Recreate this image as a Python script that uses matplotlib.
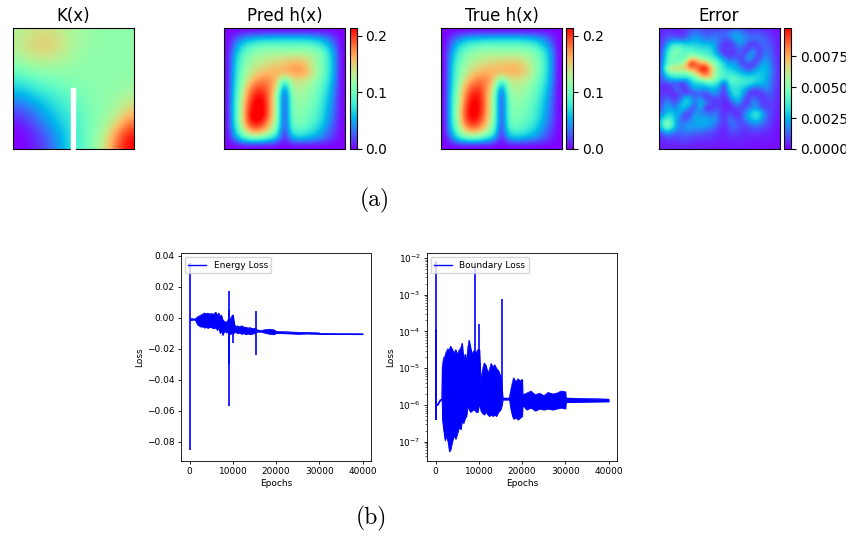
import matplotlib
matplotlib.use("Agg")
import matplotlib.pyplot as plt
import matplotlib.patches as patches
import numpy as np

W, H = 852, 539

# heatmap grids, top row first
k_grid = [
    [.60, .64, .66, .66, .62, .58, .56, .54, .53, .53, .53],
    [.62, .68, .70, .70, .65, .59, .56, .54, .53, .53, .53],
    [.58, .64, .66, .65, .61, .57, .54, .53, .53, .53, .53],
    [.51, .55, .57, .57, .56, .54, .53, .53, .53, .53, .53],
    [.41, .45, .48, .50, .51, .52, .53, .53, .53, .53, .54],
    [.30, .34, .39, .43, .46, .49, .51, .52, .53, .54, .56],
    [.20, .24, .30, .35, .40, .45, .49, .52, .53, .56, .62],
    [.10, .15, .22, .29, .35, .41, .47, .51, .54, .60, .70],
    [.04, .09, .16, .24, .31, .38, .46, .51, .57, .68, .82],
    [.00, .04, .10, .18, .27, .36, .45, .52, .63, .80, .95],
    [.00, .02, .07, .14, .25, .35, .45, .54, .68, .88, 1.0],
]

pred_grid = [
    [.000, .000, .000, .000, .000, .000, .000, .000, .000, .000, .000, .000, .000, .000, .000, .000, .000],
    [.000, .018, .034, .044, .050, .053, .055, .056, .056, .056, .056, .055, .052, .046, .034, .018, .000],
    [.000, .034, .064, .082, .092, .096, .098, .098, .098, .098, .098, .096, .092, .080, .060, .032, .000],
    [.000, .048, .084, .104, .114, .118, .120, .120, .120, .120, .120, .120, .116, .106, .082, .044, .000],
    [.000, .056, .096, .114, .126, .131, .135, .140, .145, .150, .150, .145, .130, .112, .088, .048, .000],
    [.000, .062, .102, .122, .135, .144, .150, .155, .160, .167, .170, .160, .132, .112, .088, .048, .000],
    [.000, .064, .106, .132, .150, .160, .164, .160, .160, .165, .170, .164, .142, .112, .086, .047, .000],
    [.000, .068, .112, .148, .172, .180, .172, .155, .080, .135, .140, .134, .118, .102, .080, .044, .000],
    [.000, .070, .120, .168, .195, .195, .178, .140, .020, .126, .130, .124, .112, .098, .072, .040, .000],
    [.000, .074, .128, .184, .210, .212, .174, .122, .000, .112, .122, .118, .106, .092, .066, .036, .000],
    [.000, .076, .134, .194, .220, .218, .176, .118, .000, .108, .118, .114, .102, .088, .060, .032, .000],
    [.000, .076, .138, .202, .225, .222, .176, .118, .000, .104, .114, .108, .098, .082, .056, .030, .000],
    [.000, .076, .140, .208, .230, .218, .172, .118, .000, .102, .110, .104, .094, .078, .052, .028, .000],
    [.000, .072, .136, .194, .212, .196, .156, .110, .000, .098, .106, .100, .088, .070, .046, .024, .000],
    [.000, .060, .115, .160, .175, .165, .135, .092, .000, .082, .090, .084, .072, .056, .034, .018, .000],
    [.000, .036, .080, .100, .105, .095, .080, .055, .000, .050, .060, .058, .050, .040, .026, .012, .000],
    [.000, .000, .000, .000, .000, .000, .000, .000, .000, .000, .000, .000, .000, .000, .000, .000, .000],
]

true_grid = [
    [.000, .000, .000, .000, .000, .000, .000, .000, .000, .000, .000, .000, .000, .000, .000, .000, .000],
    [.000, .018, .034, .045, .050, .053, .055, .056, .056, .056, .056, .054, .052, .046, .034, .018, .000],
    [.000, .034, .064, .082, .090, .096, .098, .098, .098, .098, .098, .096, .090, .078, .058, .032, .000],
    [.000, .046, .084, .102, .112, .118, .120, .120, .120, .120, .118, .116, .112, .102, .080, .044, .000],
    [.000, .054, .094, .114, .126, .132, .137, .140, .142, .145, .145, .138, .126, .108, .086, .048, .000],
    [.000, .060, .102, .122, .137, .146, .152, .156, .158, .161, .161, .154, .136, .112, .086, .048, .000],
    [.000, .062, .106, .134, .154, .164, .166, .162, .158, .161, .161, .154, .136, .112, .084, .046, .000],
    [.000, .064, .112, .150, .174, .183, .178, .150, .080, .130, .138, .134, .120, .102, .080, .044, .000],
    [.000, .068, .120, .170, .196, .198, .172, .132, .022, .122, .130, .124, .112, .096, .072, .040, .000],
    [.000, .072, .126, .182, .210, .208, .166, .118, .000, .110, .120, .118, .106, .092, .066, .036, .000],
    [.000, .074, .130, .192, .220, .212, .166, .114, .000, .104, .116, .112, .100, .086, .060, .032, .000],
    [.000, .074, .136, .198, .224, .212, .166, .114, .000, .102, .112, .108, .096, .082, .056, .030, .000],
    [.000, .074, .136, .202, .222, .206, .162, .114, .000, .100, .108, .102, .092, .076, .052, .028, .000],
    [.000, .070, .130, .186, .206, .190, .150, .108, .000, .096, .104, .096, .086, .068, .046, .024, .000],
    [.000, .058, .112, .154, .168, .158, .130, .090, .000, .080, .088, .082, .070, .056, .034, .018, .000],
    [.000, .034, .076, .096, .102, .092, .076, .052, .000, .048, .058, .056, .048, .040, .026, .012, .000],
    [.000, .000, .000, .000, .000, .000, .000, .000, .000, .000, .000, .000, .000, .000, .000, .000, .000],
]

# error values in units of 1e-4
err_grid = [
    [4, 5, 5, 4, 4, 6, 10, 12, 10, 8, 8, 8, 8, 8, 10, 12, 12, 10, 8, 6, 6, 5, 4, 3, 2],
    [5, 8, 8, 6, 6, 8, 14, 18, 16, 12, 12, 14, 14, 14, 16, 24, 22, 16, 12, 12, 12, 10, 8, 5, 3],
    [6, 10, 14, 14, 12, 14, 20, 24, 20, 16, 16, 18, 14, 10, 12, 20, 24, 20, 16, 14, 16, 14, 10, 6, 4],
    [6, 18, 32, 36, 34, 30, 30, 30, 28, 26, 26, 22, 12, 6, 4, 10, 20, 18, 8, 4, 8, 14, 12, 8, 4],
    [8, 26, 42, 48, 46, 40, 40, 36, 36, 34, 34, 24, 10, 4, 14, 6, 14, 10, 5, 18, 6, 12, 14, 10, 4],
    [10, 32, 46, 50, 44, 42, 48, 44, 42, 40, 36, 28, 16, 6, 4, 6, 14, 6, 16, 24, 5, 14, 16, 10, 4],
    [10, 36, 48, 46, 42, 48, 66, 70, 56, 50, 46, 40, 30, 20, 10, 14, 8, 10, 26, 12, 6, 18, 18, 12, 5],
    [12, 38, 44, 48, 52, 66, 98, 90, 78, 80, 62, 52, 40, 30, 22, 24, 14, 6, 10, 5, 14, 24, 22, 12, 5],
    [12, 50, 70, 68, 70, 70, 80, 78, 94, 98, 82, 58, 44, 34, 28, 26, 22, 14, 8, 12, 24, 26, 24, 14, 6],
    [12, 36, 44, 46, 46, 46, 56, 66, 80, 88, 78, 56, 44, 40, 36, 34, 30, 24, 22, 26, 28, 28, 24, 14, 6],
    [10, 22, 30, 34, 32, 30, 34, 46, 58, 68, 68, 54, 42, 40, 40, 44, 38, 36, 34, 34, 30, 28, 22, 12, 6],
    [8, 8, 10, 8, 6, 8, 24, 32, 30, 34, 40, 38, 32, 6, 38, 40, 38, 38, 36, 32, 28, 26, 20, 12, 6],
    [6, 4, 6, 18, 8, 8, 16, 26, 24, 24, 26, 28, 20, 4, 30, 34, 32, 28, 20, 12, 12, 18, 18, 12, 5],
    [6, 8, 4, 6, 14, 4, 8, 10, 10, 8, 16, 22, 14, 4, 22, 36, 34, 22, 8, 5, 6, 8, 14, 10, 5],
    [6, 12, 8, 6, 10, 28, 22, 12, 20, 8, 6, 10, 10, 4, 14, 28, 30, 14, 5, 14, 8, 5, 10, 10, 4],
    [8, 20, 14, 8, 24, 32, 30, 10, 30, 18, 14, 4, 8, 4, 6, 16, 20, 8, 6, 22, 16, 6, 8, 8, 4],
    [10, 22, 22, 14, 30, 26, 14, 8, 28, 6, 4, 8, 10, 4, 4, 8, 12, 6, 14, 18, 14, 8, 8, 8, 4],
    [14, 26, 28, 24, 22, 10, 6, 22, 16, 16, 10, 16, 10, 4, 10, 4, 6, 14, 22, 34, 36, 20, 10, 8, 4],
    [22, 36, 34, 26, 14, 6, 14, 24, 20, 22, 18, 20, 12, 4, 14, 10, 5, 16, 26, 32, 34, 20, 12, 6, 3],
    [30, 52, 44, 24, 14, 14, 20, 22, 24, 26, 22, 20, 12, 5, 14, 16, 8, 10, 16, 22, 22, 14, 10, 6, 3],
    [28, 50, 40, 24, 16, 20, 22, 20, 22, 20, 18, 14, 8, 4, 10, 14, 10, 8, 10, 12, 12, 10, 8, 5, 2],
    [12, 24, 20, 14, 14, 16, 16, 14, 14, 12, 10, 8, 6, 4, 8, 10, 8, 6, 6, 8, 8, 6, 5, 4, 2],
    [6, 10, 10, 8, 10, 10, 10, 8, 8, 8, 8, 6, 5, 4, 6, 6, 6, 5, 5, 5, 4, 4, 4, 3, 2],
    [4, 5, 6, 6, 8, 8, 6, 6, 5, 5, 5, 5, 4, 3, 4, 4, 4, 4, 3, 3, 3, 3, 3, 2, 2],
    [3, 4, 4, 4, 4, 4, 4, 4, 3, 3, 3, 3, 3, 2, 3, 3, 3, 3, 2, 2, 2, 2, 2, 2, 2],
]

# loss curves: envelope of the oscillation, plus the isolated spikes
energy_epochs = [100, 1000, 1300, 1500, 1800, 2200, 2600, 3000, 3400, 3800, 4200, 4600, 5000, 5500, 6000,
                 6300, 6700, 7000, 7300, 7600, 8000, 8500, 8900, 9300, 9700, 10000, 10300, 10600, 11000,
                 11500, 12000, 12500, 13000, 13500, 14000, 14500, 15000, 15600, 16500, 17000, 17500, 18500,
                 19500, 20000, 22000, 25000, 27000, 30000, 30100, 40000]
energy_hi = [-.0005, -.0008, -.0006, -.0002, .0006, .0012, .0018, .0024, .0031, .0026, .0030, .0024, .0028, .0022, .0036,
             .0012, .0030, .0004, .0018, -.0012, -.0024, -.0030, -.0010, -.0012, .0010, .0018, -.0040, -.0060, -.0052,
             -.0058, -.0052, -.0060, -.0062, -.0066, -.0064, -.0070, -.0068, -.0078, -.0082, -.0080, -.0076, -.0074,
             -.0078, -.0088, -.0090, -.0094, -.0094, -.0098, -.0101, -.0103]
energy_lo = [-.0015, -.0012, -.0016, -.0030, -.0045, -.0052, -.0058, -.0056, -.0064, -.0060, -.0066, -.0058, -.0062, -.0068, -.0064,
             -.0078, -.0070, -.0100, -.0082, -.0112, -.0085, -.0095, -.0090, -.0105, -.0100, -.0100, -.0095, -.0090, -.0100,
             -.0096, -.0104, -.0100, -.0106, -.0102, -.0106, -.0102, -.0100, -.0090, -.0090, -.0094, -.0098, -.0104,
             -.0106, -.0098, -.0100, -.0104, -.0102, -.0104, -.0104, -.0106]
energy_spike_x = [0, 9000, 9200, 10000, 15400]
energy_spike_hi = [.0354, .017, .005, .0015, .0045]
energy_spike_lo = [-.0856, -.057, -.030, -.016, -.024]

bound_epochs = [300, 500, 1000, 1400, 1500, 1800, 2100, 2400, 2800, 3100, 3400, 3800, 4200, 4600, 5000, 5400, 5800,
                6100, 6400, 6800, 7100, 7400, 7700, 8000, 8400, 8800, 9300, 9700, 10100, 10400, 10800, 11200, 11600,
                12000, 12400, 12800, 13200, 13600, 14000, 14500, 15000, 15300, 15500, 17000, 17300, 17700, 18000,
                18500, 19000, 19500, 20000, 20100, 21000, 22000, 23000, 24000, 25000, 26000, 27000, 28000, 29000,
                30000, 30100, 40000]
bound_hi = [1.0e-6, 1.1e-6, 1.4e-6, 1.45e-6, 1.1e-5, 1.9e-5, 2.1e-5, 2.8e-5, 3.4e-5, 3e-5, 4e-5, 3.3e-5, 2.5e-5, 3.2e-5, 2.4e-5, 3.1e-5, 3.6e-5,
            4.8e-5, 1.8e-5, 2.4e-5, 1.5e-5, 3.5e-5, 5.8e-5, 3.8e-5, 2.4e-5, 3e-5, 2.6e-5, 3.2e-5, 3.2e-5, 4e-6, 9e-6, 1.4e-5, 1.2e-5,
            7.5e-6, 9e-6, 1.35e-5, 1.05e-5, 1.25e-5, 1e-5, 8.5e-6, 6e-6, 3e-6, 1.55e-6, 1.55e-6, 2.4e-6, 4e-6, 5.5e-6,
            4.2e-6, 5.2e-6, 4.5e-6, 5e-6, 1.9e-6, 2.1e-6, 2.4e-6, 1.9e-6, 2.1e-6, 1.8e-6, 2.2e-6, 2e-6, 2.1e-6, 2.4e-6,
            2.3e-6, 1.55e-6, 1.45e-6]
bound_lo = [1.0e-6, 1.05e-6, 1.35e-6, 1.4e-6, 4e-7, 2e-7, 1.1e-7, 1.4e-7, 1e-7, 5.5e-8, 6e-8, 1e-7, 1.5e-7, 1.2e-7, 1.7e-7, 2.5e-7, 2.2e-7,
            4e-7, 3.2e-7, 4.5e-7, 5e-7, 1e-6, 7.5e-7, 6.5e-7, 7e-7, 8e-7, 6.5e-7, 6.5e-7, 1.1e-6, 7e-7, 6e-7, 5.5e-7, 6.5e-7,
            5.5e-7, 5e-7, 5.5e-7, 5e-7, 5.5e-7, 5e-7, 6.5e-7, 7.5e-7, 1e-6, 1.4e-6, 1.4e-6, 8e-7, 5e-7, 4.2e-7,
            4.6e-7, 4e-7, 4.5e-7, 5e-7, 1e-6, 7.5e-7, 8.5e-7, 7e-7, 8e-7, 7.5e-7, 8e-7, 7.5e-7, 8e-7, 8.5e-7,
            8e-7, 1.2e-6, 1.25e-6]
bound_spike_x = [0, 100, 9000, 10000, 15400]
bound_spike_hi = [8e-3, 1.2e-4, 6e-3, 1.6e-4, 7.5e-4]
bound_spike_lo = [4e-7, 4e-7, 7e-7, 1e-6, 1.5e-6]

titles = ["K(x)", "Pred h(x)", "True h(x)", "Error"]
err_ticks = [0, .0025, .005, .0075]
h_ticks = [0, .1, .2]


def px_axes(fig, x0, y0, x1, y1):
    # pixel box measured from the top left of the picture
    return fig.add_axes([x0 / W, 1 - y1 / H, (x1 - x0) / W, (y1 - y0) / H])


def heat(fig, grid, box, title, vmax, cbox=None, ticks=None, fmt=None):
    ax = px_axes(fig, *box)
    im = ax.imshow(grid, cmap="rainbow", interpolation="bicubic", extent=[0, 1, 0, 1],
                   vmin=0, vmax=vmax, aspect="auto")
    ax.set_xticks([])
    ax.set_yticks([])
    ax.set_title(title, fontsize=12, pad=5)
    if cbox:
        cax = px_axes(fig, *cbox)
        cb = fig.colorbar(im, cax=cax, ticks=ticks, format=fmt)
        cb.ax.tick_params(labelsize=10, length=3.5, pad=3)
    return ax


def loss(fig, box, epochs, lo, hi, sx, slo, shi, label, ylim):
    ax = px_axes(fig, *box)
    ax.fill_between(epochs, lo, hi, color="blue", lw=0.7)
    ax.vlines(sx, slo, shi, color="blue", lw=1.2)
    ax.plot(epochs, hi, color="blue", lw=0.4, label=label)
    ax.set_xlim(-2000, 41950)
    ax.set_ylim(*ylim)
    ax.set_xlabel("Epochs", fontsize=6.5, labelpad=2)
    ax.set_ylabel("Loss", fontsize=6.5, labelpad=2)
    ax.tick_params(labelsize=6.5, length=2.5, width=0.6, pad=2)
    ax.tick_params(which="minor", length=1.5, width=0.4)
    for s in ax.spines.values():
        s.set_linewidth(0.6)
    leg = ax.legend(loc="upper left", fontsize=6.5, borderaxespad=0.4)
    leg.get_lines()[0].set_linewidth(1.0)
    return ax


fig = plt.figure(figsize=(W / 100, H / 100), dpi=100)

ax_k = heat(fig, k_grid, (12.5, 27.5, 133.5, 149), titles[0], 1.0)
ax_k.add_patch(patches.Rectangle((0.483, -0.01), 0.034, 0.51, color="white", clip_on=False, zorder=3))
heat(fig, pred_grid, (224, 27.5, 345, 149), titles[1], 0.215, (349.5, 27.5, 356.5, 149), h_ticks)
heat(fig, true_grid, (441, 27.5, 562, 149), titles[2], 0.215, (566, 27.5, 573, 149), h_ticks)
heat(fig, np.array(err_grid) * 1e-4, (658.5, 27.5, 779.5, 149), titles[3], 0.0098, (784, 27.5, 791, 149), err_ticks, "%.4f")

# the source picture is cropped just past the Error colorbar labels
fig.add_artist(patches.Rectangle((846 / W, 0), 6 / W, 1, transform=fig.transFigure, color="white", zorder=20))

loss(fig, (181, 253.5, 371, 460.5), energy_epochs, energy_lo, energy_hi,
     energy_spike_x, energy_spike_lo, energy_spike_hi, "Energy Loss", (-.0921, .0414))
ax_b = loss(fig, (427, 253.5, 617, 460.5), bound_epochs, bound_lo, bound_hi,
            bound_spike_x, bound_spike_lo, bound_spike_hi, "Boundary Loss", (10 ** -7.51, 10 ** -1.88))
ax_b.set_yscale("log")
ax_b.set_ylim(10 ** -7.51, 10 ** -1.88)

fig.text(375 / W, 1 - 200 / H, "(a)", family="cmr10", fontsize=17, ha="center", va="center")
fig.text(371 / W, 1 - 518 / H, "(b)", family="cmr10", fontsize=17, ha="center", va="center")

fig.savefig("out.png", dpi=100)
